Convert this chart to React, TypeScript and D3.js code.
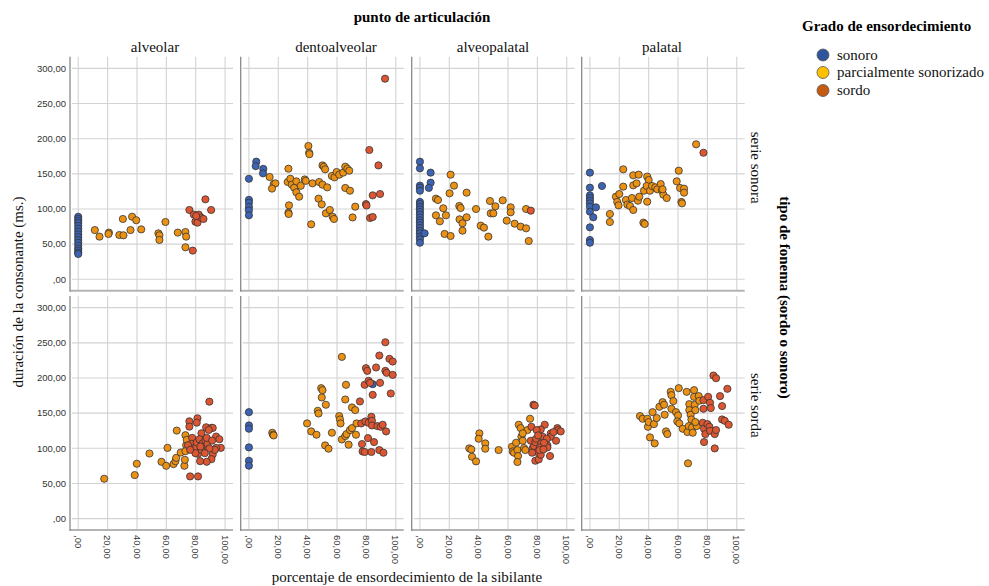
import React from "react";
import * as d3 from "d3";

// ---------- categories / labels ----------
const columns = ["alveolar", "dentoalveolar", "alveopalatal", "palatal"];
const rowLabels = ["serie sonora", "serie sorda"];
const groups = ["sonoro", "parcialmente sonorizado", "sordo"];
const xTicks = [0, 20, 40, 60, 80, 100];
const yTicks = [0, 50, 100, 150, 200, 250, 300];

// ---------- data: [porcentaje, duración] ----------
// serie sonora
const alveolarSonoraSonoro = [[0,89],[0,86],[0,83],[0,80],[0,76],[0,72],[0,68],[0,64],[0,60],[0,56],[0,52],[0,48],[0,44],[0,41],[0,38],[0,36]];
const alveolarSonoraParcial = [[11.3,70],[14.5,60.7],[20.9,66.4],[20.6,64.5],[28,63],[30.8,62.6],[30.4,85.8],[35.6,70],[36.7,89],[39.5,84],[42.9,71],[54.6,65.4],[55.3,62.6],[55.3,56],[59.4,81.5],[67.8,66.4],[73,67.3],[73.5,60.7],[73,45.5]];
const alveolarSonoraSordo = [[75.7,98.6],[78,40.8],[78.7,92],[79.8,82],[81.2,80.6],[82.1,92],[83.7,87.7],[85.3,85.8],[86.6,113.7],[90.5,98.6],[80.3,90]];

const dentoSonoraSonoro = [[0,143],[0,113],[0,109],[0,103],[0,98],[0,91],[5,167.3],[4.6,161],[9.8,157],[9.6,150.7]];
const dentoSonoraParcial = [[14.1,145.5],[16.9,135.5],[18,136.5],[15.7,129],[26.9,157.3],[26.4,138.4],[28.2,143],[29.2,134.6],[30.8,130.3],[32.3,139.3],[32.3,123.7],[34.2,117.5],[35.3,133],[38,142],[38.7,140],[27.3,105.2],[26.9,94.8],[27.1,92.9],[40.5,189.6],[41,180],[41.2,178],[43.3,136.5],[47.8,138.4],[50.1,134.6],[53.3,130.8],[47.4,114.7],[49.6,106.6],[52.4,93.8],[55.1,98.6],[57,89],[57.9,85.8],[42.4,78.2],[50.1,162],[51,160],[51.9,156.4],[56.5,147],[58.3,145],[59.7,152.6],[61.5,148.8],[64.2,151.7],[65.6,160.2],[67,157.3],[68.3,154.5],[65.6,129.9],[68.8,126],[72.4,103.3],[70.6,88]];
const dentoSonoraSordo = [[92.7,285.3],[82,183.9],[88.2,162],[84.3,119.4],[89.3,121.3],[79.7,107],[80.1,105],[82.5,87.2],[84.3,88.6]];

const alveopalatalSonoraSonoro = [[0,167.3],[0,157.8],[0,133.2],[0,130.3],[0,126],[0,110],[0,107],[0,103],[0,99.5],[0,95.7],[0,92],[0,88],[0,84],[0,80.6],[0,76.8],[0,73],[0,69],[0,65.4],[0,60.7],[0,56.9],[0,52],[7.3,151.7],[7.3,137.4],[6.1,130],[3.2,65.4]];
const alveopalatalSonoraParcial = [[10.9,114.7],[12.3,112.8],[10.9,91],[13.6,82.5],[15.9,101],[17.7,91],[16.8,64.5],[20.9,61.6],[20.9,148.8],[23.2,133.2],[20.2,122.3],[26.8,104.3],[27.7,101.4],[27,85.3],[29,79.6],[29,69.2],[31.8,88.2],[31.8,123.2],[38.2,100],[41.4,76.3],[43.6,73.5],[46.6,60.7],[47.7,111.4],[51.4,103.8],[48.2,93.8],[50,93.8],[56.4,112.3],[61.8,102.4],[61.8,95.3],[59.1,83.4],[64.5,79.1],[68.6,74.9],[72.3,72.5],[72.3,100],[74.1,54.5]];
const alveopalatalSonoraSordo = [[75.5,97.6]];

const palatalSonoraSonoro = [[0,151.7],[0,130.3],[0,119.4],[0,115.6],[0,111.8],[0,108],[0,103.3],[0,96.2],[0,73.9],[0,55.9],[0,52],[2.3,88.2],[4.1,102.4],[8.2,132.7]];
const palatalSonoraParcial = [[13.6,92.9],[13.6,81.5],[17.7,117.5],[18.6,110],[20,121.3],[19.5,105.2],[22.7,156.4],[22.7,131.8],[24.5,112.8],[25.5,106.2],[27.3,104.3],[29.5,98.6],[28.6,115.6],[29.5,147.9],[29.5,133.6],[31.8,136.5],[33.2,148.8],[32.7,111.8],[33.6,117.5],[36.4,80.6],[37.3,78.7],[36.8,126],[39,110.4],[39,146],[40,141.2],[38.6,132.7],[40.9,126],[42.3,132.7],[44.5,130.8],[45.9,128],[48.2,135.5],[49.1,126],[50,120.4],[52.3,115.6],[49.5,128],[59.1,139.3],[60.5,154.5],[61.4,129.9],[64.1,128.9],[64.1,123.2],[62.3,110],[62.7,108],[72.3,192]];
const palatalSonoraSordo = [[77.3,180]];

// serie sorda
const alveolarSordaSonoro: number[][] = [];
const alveolarSordaParcial = [[17.7,56.7],[38.5,61.9],[39.9,78],[48.5,92.6],[56.7,80.8],[59.9,75.1],[60.8,100.6],[64.9,77.5],[66.2,81.7],[66.7,86.4],[67.1,125.2],[69.8,94],[72.3,75.1],[72.6,83.6],[73,118.6],[73.5,104.4],[73.9,112],[73,95.9]];
const alveolarSordaSordo = [[89.3,166.3],[76.2,60],[81.6,60],[75.7,138.4],[75.7,130.8],[81.2,142.7],[80.7,136.5],[83.9,121.4],[87.1,129.9],[90.7,129],[91.6,129],[88.9,126.1],[93.9,116.7],[96.1,112.9],[97.1,100.6],[93.9,100.6],[91.6,91.2],[93,97.8],[90.7,84.6],[87.5,80.8],[83,81.7],[81.6,92.1],[77.6,114.8],[77.1,106.3],[78,99.7],[80.3,101.6],[80.7,108.2],[82.5,112.9],[84.8,107.2],[85.7,102.5],[86.6,111],[88,106.3],[89.3,99.7],[83.9,97.8],[86.2,93.1],[79.8,93.1],[74.8,104.4],[76.2,97.8],[83.2,102.5],[87.5,114.8],[91.2,111]];

const dentoSordaSonoro = [[0,151.4],[0,132.5],[0,127.8],[0,101.3],[0,82.3],[0,75.2],[84.3,191.2]];
const dentoSordaParcial = [[15.9,122.1],[16.4,119.3],[16.8,118.3],[39.6,135.4],[42.4,124],[46,119.3],[46.9,153.3],[47.4,149.5],[49.2,185.5],[50.1,182.7],[49.6,172.3],[52.4,161.9],[51.9,104.1],[54.2,99.4],[56.5,122.1],[61.5,145.8],[62,141],[62.4,135.4],[63.3,230],[63.3,112.6],[65.6,117.4],[66.5,120.2],[66.1,190.3],[65.6,169.4],[67.9,105.1],[68.8,125.9],[70.2,128.7],[70.2,158.1],[72.4,154.3],[72.9,119.3],[73.3,135.4]];
const dentoSordaSordo = [[75.6,166.6],[76.5,135.4],[77,106],[77.4,95.6],[78.8,94.7],[78.8,190.3],[79.3,138.2],[79.7,213.9],[80.6,210.1],[81.5,195.9],[82.5,193.1],[81.1,114.5],[81.5,136.3],[83.4,144.8],[83.8,139.1],[83.8,132.5],[84.3,176],[85.2,108.8],[83.4,94.7],[86.6,214.9],[87.5,131.6],[88.8,231.9],[89.3,193.1],[89.7,130.6],[88.8,97.5],[91.1,133.5],[91.6,93.7],[93.4,124],[92.9,250.8],[92.9,210.1],[93.8,207.3],[95.7,227.2],[97.9,223.4],[96.6,177.9],[97.9,204.4]];

const alveopalatalSordaSonoro: number[][] = [];
const alveopalatalSordaParcial = [[33.6,99.9],[35,98.4],[35.5,88],[38.2,81.4],[40.5,121.2],[40,113.6],[44.5,107],[44.5,99.4],[53.6,97.5],[62.7,102.2],[63.2,95.6],[64.1,93.7],[65.5,107.9],[66.4,97.5],[66.8,89],[66.4,80.5],[67.3,133.5],[68.6,128.7],[69.1,116.4],[70,110.7],[70.9,100.3],[71.8,97.5],[73.2,125.9],[75,142],[70,121.2]];
const alveopalatalSordaSordo = [[77.3,161.9],[78.2,160.9],[75.9,130.6],[75.5,110.7],[76.8,100.3],[77.7,103.2],[78.6,108.8],[79.1,113.6],[80,94.7],[78.6,82.3],[80.9,84.2],[82.3,90.9],[82.7,107],[83.6,116.4],[81.8,101.3],[85,133.5],[86.8,104.1],[86.8,101.3],[88.6,89],[89.1,121.2],[89.1,116.4],[92.7,110.7],[93.6,128.7],[94.1,125.9],[95.9,124],[90.9,123],[86.4,113.6],[82.3,126.8],[79.5,125.9],[80.5,118.3],[84.5,107.9],[76.4,93.7],[81.4,97.5],[84.1,98.4]];

const palatalSordaSonoro: number[][] = [];
const palatalSordaParcial = [[34.1,145.8],[35.9,142],[39.1,142],[39.5,130.6],[40,137.3],[42.7,151.4],[43.6,134.4],[45.5,143],[40.9,115.5],[44.1,107],[47.3,159],[49.5,165.6],[50.5,161.9],[50.9,147.7],[51.8,124],[52.7,120.2],[55,180.3],[55.5,175.6],[56.8,167.1],[55.5,156.2],[58.6,151.4],[60,146.7],[60.5,185.5],[59.5,138.2],[60.9,135.4],[63.2,127.8],[65.9,180.3],[66.4,123.1],[66.8,78.6],[67.3,131.6],[67.7,162.8],[67.7,154.3],[68.6,147.7],[69.1,141],[69.5,129.6],[70,122.1],[70.9,182.7],[70.9,173.2],[71.4,161.9],[71.8,154.3],[72.7,131.6],[71.8,137.3],[74.1,174.2],[74.5,167.6]];
const palatalSordaSordo = [[77.3,168.5],[77.3,156.2],[76.8,136.3],[77.7,127.8],[77.7,108.8],[78.6,120.2],[80.5,173.2],[81.8,164.7],[82.3,157.2],[80,134.4],[81.4,130.6],[81.8,124.9],[84.1,203.5],[85.9,199.7],[85,120.2],[85.9,125.9],[85,99.8],[88.6,174.2],[90,160],[90,141],[91.8,139.1],[93.6,184.6],[94.5,133.5]];

const panelData = [
  [
    [alveolarSonoraSonoro, alveolarSonoraParcial, alveolarSonoraSordo],
    [dentoSonoraSonoro, dentoSonoraParcial, dentoSonoraSordo],
    [alveopalatalSonoraSonoro, alveopalatalSonoraParcial, alveopalatalSonoraSordo],
    [palatalSonoraSonoro, palatalSonoraParcial, palatalSonoraSordo],
  ],
  [
    [alveolarSordaSonoro, alveolarSordaParcial, alveolarSordaSordo],
    [dentoSordaSonoro, dentoSordaParcial, dentoSordaSordo],
    [alveopalatalSordaSonoro, alveopalatalSordaParcial, alveopalatalSordaSordo],
    [palatalSordaSonoro, palatalSordaParcial, palatalSordaSordo],
  ],
];

// ---------- styling ----------
const pointColors = ["#3D63B3", "#EB9114", "#DC5632"];
const legendColors = ["#2E559B", "#FFC000", "#C55A11"];
const SERIF = "'Liberation Serif', 'Times New Roman', serif";
const SANS = "'Liberation Sans', Arial, sans-serif";

const panelLefts = [70, 240.7, 411.7, 581.7];
const panelW = 163;
const rowTops = [56.7, 296];
const panelH = 234;
const headerX = [155, 336, 493, 662];

const fmt = (v: number) => (v === 0 ? ",00" : `${v},00`);

export default function App() {
  return (
    <svg
      width={989}
      height={586}
      style={{ position: "absolute", left: 0, top: 0, background: "#fff" }}
    >
      <rect width={989} height={586} fill="#fff" />
      <text x={422} y={22} textAnchor="middle" fontFamily={SERIF} fontWeight="bold" fontSize={15} fill="#000">
        punto de articulación
      </text>
      {columns.map((c, i) => (
        <text key={c} x={headerX[i]} y={52} textAnchor="middle" fontFamily={SERIF} fontSize={15} fill="#111">
          {c}
        </text>
      ))}
      {rowLabels.map((r, ri) =>
        columns.map((c, ci) => {
          const left = panelLefts[ci];
          const top = rowTops[ri];
          const x = d3.scaleLinear().domain([-5.6, 105.4]).range([left, left + panelW]);
          const y = d3.scaleLinear().domain([-16.2, 316.6]).range([top + panelH, top]);
          const series = panelData[ri][ci];
          return (
            <g key={r + c}>
              {yTicks.map((t) => (
                <line key={"h" + t} x1={left + 2} x2={left + panelW} y1={y(t)} y2={y(t)} stroke="#d3d3d3" strokeWidth={1.1} />
              ))}
              {xTicks.map((t) => (
                <line key={"v" + t} x1={x(t)} x2={x(t)} y1={top} y2={top + panelH} stroke="#d3d3d3" strokeWidth={1.1} />
              ))}
              <line x1={left} x2={left + panelW} y1={top + panelH} y2={top + panelH} stroke="#b4b4b4" strokeWidth={2} />
              <line x1={left} x2={left} y1={top} y2={top + panelH + 1} stroke="#8a8a8a" strokeWidth={1.3} />
              {ci === 0 &&
                yTicks.map((t) => (
                  <text key={"yl" + t} x={66} y={y(t)} dy="0.35em" textAnchor="end" fontFamily={SANS} fontSize={9.5} fill="#333">
                    {fmt(t)}
                  </text>
                ))}
              {ri === 1 &&
                xTicks.map((t) => (
                  <text
                    key={"xl" + t}
                    transform={`translate(${x(t)},535) rotate(90)`}
                    dy="0.35em"
                    textAnchor="start"
                    fontFamily={SANS}
                    fontSize={9.5}
                    fill="#333"
                  >
                    {fmt(t)}
                  </text>
                ))}
              {series.map((pts, gi) =>
                pts.map((p, pi) => (
                  <circle
                    key={gi + "-" + pi}
                    cx={x(p[0])}
                    cy={y(p[1])}
                    r={3.6}
                    fill={pointColors[gi]}
                    stroke="#333"
                    strokeWidth={0.8}
                  />
                ))
              )}
            </g>
          );
        })
      )}
      <text transform="translate(751,131.7) rotate(90)" fontFamily={SERIF} fontSize={15} fill="#111">
        {rowLabels[0]}
      </text>
      <text transform="translate(751,373) rotate(90)" fontFamily={SERIF} fontSize={15} fill="#111">
        {rowLabels[1]}
      </text>
      <text transform="translate(779.5,297.5) rotate(90)" textAnchor="middle" fontFamily={SERIF} fontWeight="bold" fontSize={15} fill="#000">
        tipo de fonema (sordo o sonoro)
      </text>
      <text transform="translate(23,292) rotate(-90)" textAnchor="middle" fontFamily={SERIF} fontSize={15} fill="#111">
        duración de la consonante (ms.)
      </text>
      <text x={407} y={582} textAnchor="middle" fontFamily={SERIF} fontSize={15} fill="#111">
        porcentaje de ensordecimiento de la sibilante
      </text>
      <text x={802} y={31} fontFamily={SERIF} fontWeight="bold" fontSize={15} fill="#000">
        Grado de ensordecimiento
      </text>
      {groups.map((g, i) => (
        <g key={g}>
          <circle cx={823} cy={[55, 72.5, 90.5][i]} r={6} fill={legendColors[i]} stroke="#555" strokeWidth={0.8} />
          <text x={837} y={[59.5, 77, 95][i]} fontFamily={SERIF} fontSize={15} fill="#111">
            {g}
          </text>
        </g>
      ))}
    </svg>
  );
}
